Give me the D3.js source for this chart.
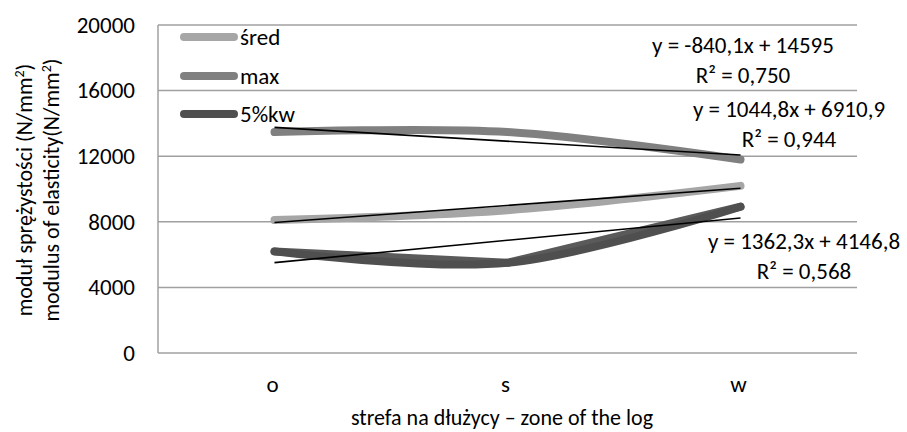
<!DOCTYPE html>
<html><head><meta charset="utf-8">
<script src="https://cdn.jsdelivr.net/npm/d3@7"></script>
<style>body{margin:0;background:#fff}svg{display:block;font-family:"Carlito","Open Sans",sans-serif}</style>
</head><body><svg id="c" width="907" height="432"></svg>
<script>
const categories = ["o","s","w"];
const sredValues = [8103, 8706, 10192];
const maxValues = [13475, 13475, 11795];
const kwValues = [6195, 5499, 8920];
const seriesNames = ["śred","max","5%kw"];
const seriesColors = ["#a6a6a6","#808080","#4f4f4f"];
const trendSlopes = [1044.8, -840.1, 1362.3];
const trendIntercepts = [6910.9, 14595, 4146.8];
const trendEq = [["y = 1044,8x + 6910,9","R² = 0,944"],["y = -840,1x + 14595","R² = 0,750"],["y = 1362,3x + 4146,8","R² = 0,568"]];
const yTicks = [0,4000,8000,12000,16000,20000];

const svg = d3.select("#c");
const m = {l:158, r:50, t:25, b:79};
const W = 907, H = 432;
const FS = 23;
const x = d3.scaleBand().domain(categories).range([m.l, W-m.r]);
const xc = c => x(c) + x.bandwidth()/2;
const y = d3.scaleLinear().domain([0,20000]).range([H-m.b, m.t]);

// gridlines
svg.append("g").selectAll("line").data(yTicks).join("line")
  .attr("x1", m.l).attr("x2", W-m.r).attr("y1", d=>y(d)).attr("y2", d=>y(d))
  .attr("stroke", "#a0a0a0").attr("stroke-width", 1.5);
svg.append("line").attr("x1", m.l).attr("x2", m.l).attr("y1", y(0)).attr("y2", y(20000))
  .attr("stroke", "#a0a0a0").attr("stroke-width", 1.5);

// y axis labels
const yAxis = svg.append("g").attr("transform", `translate(${m.l-23},0)`)
  .call(d3.axisLeft(y).tickValues(yTicks).tickSize(0).tickPadding(0).tickFormat(d3.format("d")));
yAxis.select(".domain").remove();
yAxis.selectAll("text").attr("font-size", FS).attr("fill", "#000").attr("font-family", "Carlito, 'Open Sans', sans-serif");

// x axis labels
const xAxis = svg.append("g").attr("transform", `translate(-2,${y(0)+23})`)
  .call(d3.axisBottom(x).tickSize(0).tickPadding(0));
xAxis.select(".domain").remove();
xAxis.selectAll("text").attr("font-size", FS).attr("fill", "#000").attr("font-family", "Carlito, 'Open Sans', sans-serif");

// titles
svg.append("text").attr("x", 502).attr("y", 425).attr("text-anchor", "middle")
  .attr("font-size", 22).text("strefa na dłużycy – zone of the log");
function yTitle(tx, label){
  const t = svg.append("text").attr("transform", `translate(${tx},190) rotate(-90)`).attr("text-anchor","middle").attr("font-size", 22);
  t.append("tspan").text(label);
  t.append("tspan").attr("font-size",14).attr("dy",-8).text("2");
  t.append("tspan").attr("font-size",22).attr("dy",8).text(")");
}
yTitle(32, "moduł sprężystości (N/mm");
yTitle(59, "modulus of elasticity(N/mm");

const allSeries = [sredValues, maxValues, kwValues];
const smooth = d3.line().x((d,i)=>xc(categories[i])).y(d=>y(d)).curve(d3.curveCardinal.tension(0));
const straight = d3.line().x((d,i)=>xc(categories[i])).y(d=>y(d));

// straight copy of 5%kw
svg.append("path").attr("d", straight(kwValues)).attr("fill","none")
  .attr("stroke", "#5a5a5a").attr("stroke-width", 8).attr("stroke-linecap","round").attr("stroke-linejoin","round");
allSeries.forEach((vals,k)=>{
  svg.append("path").attr("d", smooth(vals)).attr("fill","none")
    .attr("stroke", seriesColors[k]).attr("stroke-width", 8).attr("stroke-linecap","round");
});

// trend lines
trendSlopes.forEach((s,k)=>{
  const pts = [1,3].map(n=>[xc(categories[n-1]), y(s*n + trendIntercepts[k])]);
  svg.append("line").attr("x1",pts[0][0]).attr("y1",pts[0][1]).attr("x2",pts[1][0]).attr("y2",pts[1][1])
    .attr("stroke","#000").attr("stroke-width",1.6);
});

// equation labels
const eqPos = [[789,117],[743,53],[804,249]];
trendEq.forEach((lines,k)=>{
  lines.forEach((t,j)=>{
    svg.append("text").attr("x", eqPos[k][0]).attr("y", eqPos[k][1] + j*30)
      .attr("text-anchor","middle").attr("font-size",FS).text(t);
  });
});

// legend
const legY = [37, 76, 114];
seriesNames.forEach((n,k)=>{
  svg.append("line").attr("x1",184).attr("x2",234).attr("y1",legY[k]).attr("y2",legY[k])
    .attr("stroke",seriesColors[k]).attr("stroke-width",8).attr("stroke-linecap","round");
  svg.append("text").attr("x",240).attr("y",legY[k]+8).attr("font-size",FS).text(n);
});
</script></body></html>
